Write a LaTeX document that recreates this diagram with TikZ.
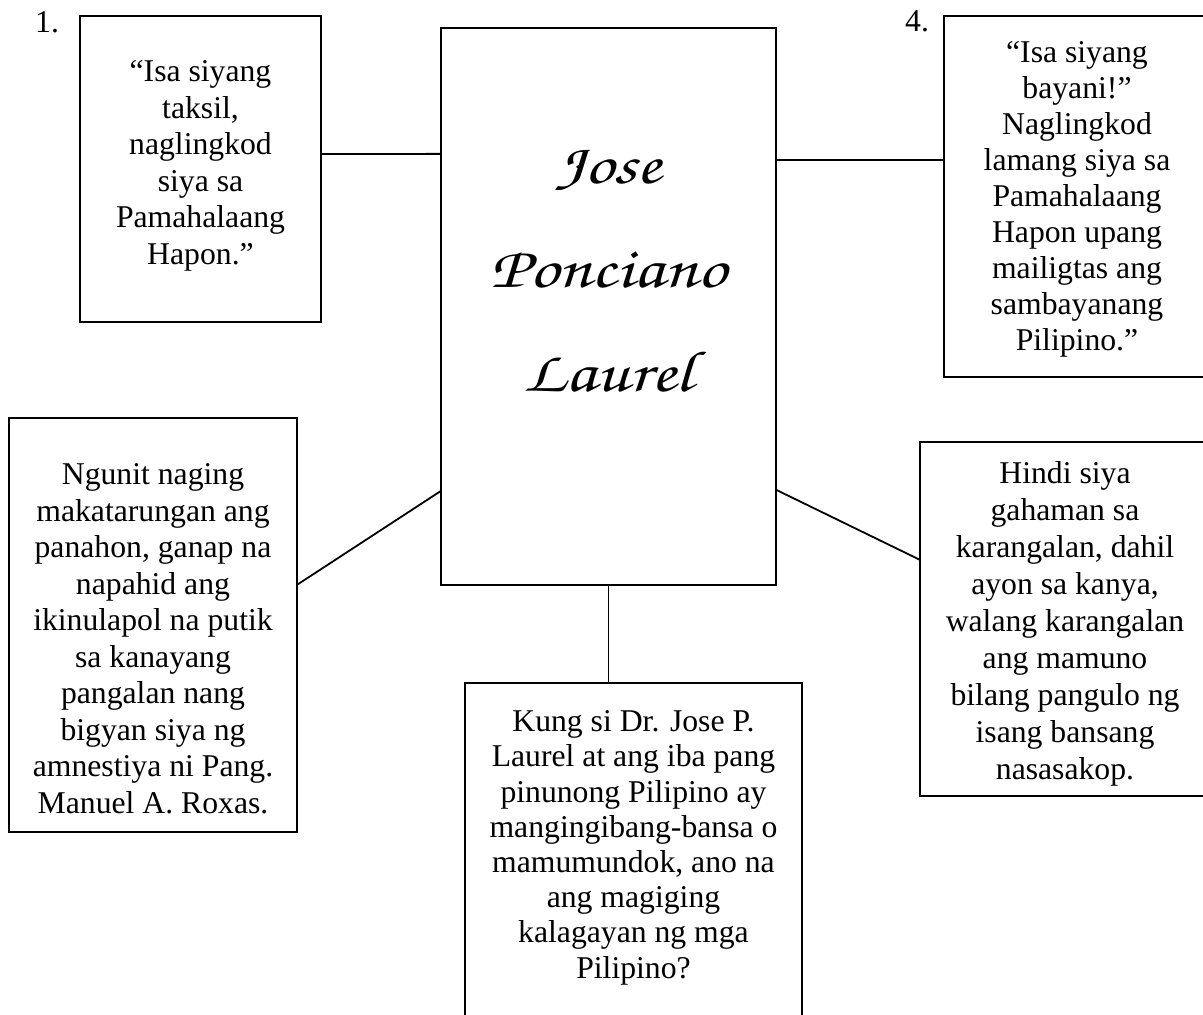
\documentclass[tikz,border=0pt]{standalone}
\usepackage[T1]{fontenc}
\usepackage{fontspec}
\usepackage{graphicx}
\setmainfont{Liberation Serif}
\usetikzlibrary{positioning,calc}

\newcommand{\namefont}{\fontencoding{T1}\fontfamily{pzc}\fontseries{mb}\fontshape{it}\fontsize{58}{104}\selectfont}
\newcommand{\wide}[1]{\scalebox{1.25}[1]{#1}}

\tikzset{
  box/.style={draw, line width=1.8pt, anchor=north west, inner sep=0pt, outer sep=0pt},
  txt/.style={align=center, inner sep=0pt, font=\fontsize{31.7}{36.5}\selectfont},
  link/.style={line width=1.8pt},
}

\begin{document}
\begin{tikzpicture}[x=1pt, y=-1pt]
  \useasboundingbox (0,0) rectangle (1203,1015);
  \clip (0,0) rectangle (1203,1015);

  % the boxes
  \node[box, minimum width=335pt, minimum height=557pt] (jpl) at (441,28) {};
  \node[box, minimum width=241pt, minimum height=306pt] (taksil) at (80,16) {};
  \node[box, minimum width=266pt, minimum height=361pt] (bayani) at (944,16) {};
  \node[box, minimum width=288pt, minimum height=414pt] (amnestiya) at (9,418) {};
  \node[box, minimum width=290pt, minimum height=354pt] (gahaman) at (920,442) {};
  \node[box, minimum width=337pt, minimum height=350pt] (kalagayan) at (465,683) {};

  % numbers
  \node[txt, anchor=base west] (num1) at (35,32) {1.};
  \node[txt, anchor=base west] (num4) at (905,31) {4.};

  % texts
  \node[align=center, inner sep=0pt, font=\namefont] (pangalan) at ([yshift=36pt]jpl.center) {\wide{Jose}\\\wide{Ponciano}\\\wide{Laurel}};
  \node[txt, below=44.5pt of taksil.north] (t1) {“Isa siyang\\taksil,\\naglingkod\\siya sa\\Pamahalaang\\Hapon.”};
  \node[txt, below=25.5pt of bayani.north, font=\fontsize{31.7}{36}\selectfont] (t4) {“Isa siyang\\bayani!”\\Naglingkod\\lamang siya sa\\Pamahalaang\\Hapon upang\\mailigtas ang\\sambayanang\\Pilipino.”};
  \node[txt, below=45.5pt of amnestiya.north] (t2) {Ngunit naging\\makatarungan ang\\panahon, ganap na\\napahid ang\\ikinulapol na putik\\sa kanayang\\pangalan nang\\bigyan siya ng\\amnestiya ni Pang.\\Manuel A. Roxas.};
  \node[txt, below=19.5pt of gahaman.north, font=\fontsize{31.7}{37}\selectfont] (t5) {Hindi siya\\gahaman sa\\karangalan, dahil\\ayon sa kanya,\\walang karangalan\\ang mamuno\\bilang pangulo ng\\isang bansang\\nasasakop.};
  \node[txt, below=27.5pt of kalagayan.north, font=\fontsize{31.7}{35.2}\selectfont] (t3) {Kung si Dr. Jose P.\\Laurel at ang iba pang\\pinunong Pilipino ay\\mangingibang-bansa o\\mamumundok, ano na\\ang magiging\\kalagayan ng mga\\Pilipino?};

  % lines to the middle
  \draw[link] ($(taksil.north east)!0.451!(taksil.south east)$) -- ($(jpl.north west)!0.226!(jpl.south west)$);
  \draw[link] ($(jpl.north east)!0.237!(jpl.south east)$) -- ($(bayani.north west)!0.399!(bayani.south west)$);
  \draw[link] ($(jpl.north west)!0.831!(jpl.south west)$) -- ($(amnestiya.north east)!0.403!(amnestiya.south east)$);
  \draw[link] ($(jpl.north east)!0.829!(jpl.south east)$) -- ($(gahaman.north west)!0.333!(gahaman.south west)$);
  \draw[link] (jpl.south) -- (jpl.south |- kalagayan.north);
\end{tikzpicture}
\end{document}
